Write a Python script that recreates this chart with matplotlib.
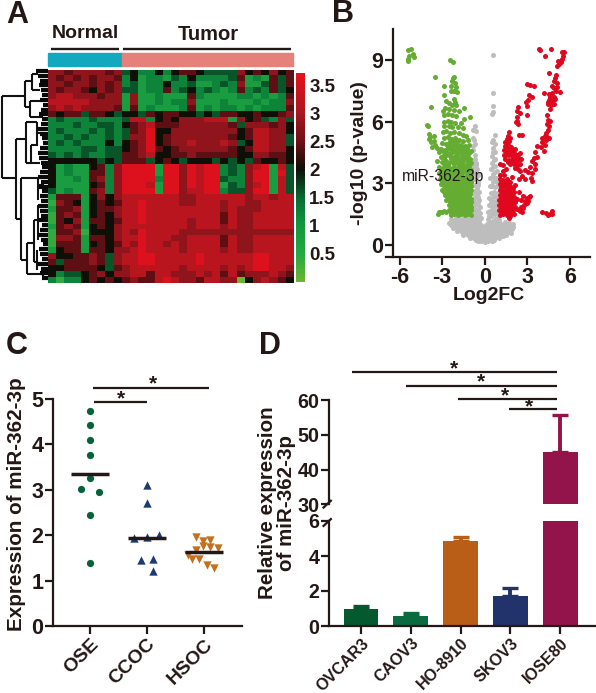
import numpy as np
import matplotlib
matplotlib.use('Agg')
import matplotlib.pyplot as plt
from matplotlib.colors import LinearSegmentedColormap
from matplotlib.lines import Line2D

W, H = 596, 693
DARK = '#231815'
plt.rcParams['font.family'] = ['Liberation Sans', 'DejaVu Sans']
plt.rcParams['font.weight'] = 'bold'

# --- panel A: one digit per cell, value = digit * 0.4 (9 normal columns, 21 tumor columns)
heat_rows = [
    "776777767 4533535 6654444 7565756",
    "767676776 3523324 3533334 6232646",
    "776776767 3423353 3422343 7224646",
    "767765767 4423363 4534323 6343645",
    "788777677 2722322 2632222 3323236",
    "888887777 2722323 3722232 2232337",
    "787877776 2623222 3623233 2323336",
    "656646654 5546566 5545466 5565567",
    "343334333 4883565 7778882 7564374",
    "333433443 5678666 7777776 4777675",
    "343334343 4679557 7777777 5688775",
    "334343343 4779567 7777776 5688774",
    "343433353 5679567 7877787 4588774",
    "333344344 5679656 7777776 5688775",
    "434343344 6678556 6766666 5577665",
    "555555454 6664565 4555454 5465565",
    "523225637 9999299 7989934 3789284",
    "523226637 9999299 7989934 3799294",
    "522326737 9999399 7989943 3799284",
    "522225637 9998299 7989924 3789284",
    "423226737 9999299 7889934 4799284",
    "266625757 8888888 7788888 8788788",
    "176525656 8898888 7788878 8778888",
    "266725667 8898888 8888878 7778888",
    "167625657 8898888 8888868 7788888",
    "165726656 8898888 8788868 7788888",
    "267625657 8888888 8788878 7788888",
    "166715557 8798888 7777777 7777777",
    "177626657 8898887 7888868 7788888",
    "166625656 8798878 7888868 7788888",
    "256626657 7898888 7888878 7788888",
    "755667647 8899888 8898888 8899888",
    "646667647 8899888 8898888 8899888",
    "556666546 7888888 7888878 7899887",
    "534456757 7886887 7787868 6777876",
    "313356565 6766898 7768877 0578765",
]
heat_ticks = [3.5, 3, 2.5, 2, 1.5, 1, 0.5]
heat_labels = ['3.5', '3', '2.5', '2', '1.5', '1', '0.5']

# --- panel B: volcano points (log2FC, -log10 p)
green_pts = [
    (-5.4,9.5),(-5.2,9.55),(-5.05,9.3),(-5.0,9.15),(-5.35,9.2),(-5.4,8.95),(-5.4,9.05),(-2.45,9.0),(-2.25,8.9),
    (-3.5,8.15),(-2.25,8.1),(-2.15,8.15),(-2.3,7.95),(-2.1,7.9),(-2.35,7.75),(-2.0,7.7),(-2.9,7.75),(-2.4,7.5),
    (-2.15,7.5),(-1.95,7.45),(-2.9,7.3),(-2.2,7.1),(-2.1,6.95),(-2.75,7.0),(-2.5,6.9),(-2.3,6.8),(-2.05,6.8),
    (-3.75,6.7),(-1.45,6.65),(-2.8,6.65),(-2.55,6.6),(-2.2,6.55),(-2.95,6.5),(-1.8,6.5),(-2.9,6.3),(-2.6,6.35),
    (-2.3,6.3),(-2.0,6.25),(-1.45,6.15),(-2.85,6.0),(-2.6,6.05),(-2.35,6.0),(-2.1,5.95),(-1.7,5.95),(-1.05,6.2),
    (-4.05,5.85),(-4.0,5.8),(-2.9,5.8),(-2.55,5.8),(-2.3,5.75),(-1.9,5.75),(-1.5,5.7),(-3.9,5.4),(-3.85,5.25),
    (-3.95,5.15),(-3.75,5.0),(-3.6,5.3),(-3.55,5.05),(-3.5,4.85),(-3.35,4.7),(-3.7,4.75),(-3.2,4.5),(-3.1,4.3),
    (-3.35,4.1),(-2.95,5.5),(-2.7,5.55),(-2.45,5.45),(-2.2,5.5),(-1.85,5.45),(-1.55,5.35),(-1.3,5.3),
    (-2.9,5.2),(-2.6,5.25),(-2.35,5.15),(-2.1,5.2),(-1.8,5.1),(-1.5,5.05),(-1.2,5.1),
    (-3.0,4.95),(-2.75,4.9),(-2.45,4.95),(-2.2,4.85),(-1.95,4.9),(-1.7,4.85),(-1.4,4.8),(-1.1,4.85),
    (-3.05,4.65),(-2.8,4.6),(-2.55,4.7),(-2.3,4.6),(-2.05,4.65),(-1.75,4.6),(-1.5,4.55),(-1.25,4.6),(-1.0,4.55),
    (-2.95,4.35),(-2.7,4.4),(-2.45,4.35),(-2.2,4.3),(-1.95,4.4),(-1.65,4.3),(-1.4,4.35),(-1.15,4.3),
    (-3.0,4.05),(-2.75,4.1),(-2.5,4.0),(-2.3,4.1),(-2.0,4.05),(-1.75,4.0),(-1.5,4.1),(-1.2,4.05),(-1.0,4.0),
    (-3.2,3.8),(-2.95,3.75),(-2.7,3.85),(-2.45,3.75),(-2.15,3.8),(-1.9,3.75),(-1.6,3.8),(-1.35,3.75),(-1.1,3.8),
    (-3.25,3.5),(-3.0,3.55),(-2.75,3.45),(-2.5,3.55),(-2.25,3.45),(-2.0,3.5),(-1.75,3.45),(-1.5,3.55),(-1.25,3.45),(-1.0,3.5),
    (-3.15,3.2),(-2.9,3.25),(-2.65,3.2),(-2.4,3.25),(-2.15,3.2),(-1.9,3.25),(-1.65,3.2),(-1.4,3.25),(-1.15,3.2),(-0.95,3.25),
    (-3.1,2.95),(-2.85,3.0),(-2.6,2.95),(-2.35,3.0),(-2.1,2.95),(-1.85,3.0),(-1.6,2.95),(-1.35,3.0),(-1.1,2.95),
    (-3.0,2.7),(-2.75,2.75),(-2.5,2.7),(-2.25,2.75),(-2.0,2.7),(-1.75,2.75),(-1.5,2.7),(-1.25,2.75),(-1.0,2.7),
    (-2.8,2.45),(-2.55,2.5),(-2.3,2.45),(-2.05,2.5),(-1.8,2.45),(-1.55,2.5),(-1.3,2.45),(-1.05,2.5),
    (-2.7,2.2),(-2.45,2.25),(-2.2,2.2),(-1.95,2.25),(-1.7,2.2),(-1.45,2.25),(-1.2,2.2),(-0.95,2.25),
    (-2.55,1.95),(-2.3,2.0),(-2.05,1.95),(-1.8,2.0),(-1.55,1.95),(-1.3,2.0),(-1.05,1.95),
    (-2.5,1.7),(-2.25,1.75),(-2.0,1.7),(-1.75,1.75),(-1.5,1.7),(-1.25,1.75),(-1.0,1.7),
    (-2.4,1.45),(-2.15,1.5),(-1.9,1.45),(-1.65,1.5),(-1.4,1.45),(-1.15,1.5),(-0.95,1.45),
    (-3.3,1.5),(-3.15,1.6),(-3.0,1.6),(-2.85,1.65),(-2.7,1.6),(-3.25,1.6),
    # in between the rows above, where the cloud is solid
    (-3.05,3.35),(-2.8,3.35),(-2.55,3.38),(-2.3,3.33),(-2.1,3.35),(-1.85,3.38),(-1.6,3.35),(-1.35,3.33),(-1.1,3.37),
    (-3.0,3.08),(-2.75,3.1),(-2.5,3.08),(-2.25,3.1),(-2.0,3.07),(-1.75,3.1),(-1.5,3.08),(-1.25,3.1),(-1.0,3.08),
    (-2.9,2.85),(-2.65,2.85),(-2.4,2.83),(-2.15,2.86),(-1.9,2.84),(-1.65,2.85),(-1.4,2.83),(-1.15,2.86),(-0.97,2.85),
    (-2.85,2.58),(-2.6,2.6),(-2.35,2.58),(-2.1,2.6),(-1.85,2.58),(-1.6,2.6),(-1.35,2.58),(-1.1,2.6),
    (-2.6,2.33),(-2.35,2.35),(-2.1,2.33),(-1.85,2.35),(-1.6,2.33),(-1.35,2.35),(-1.1,2.33),
    (-2.45,2.08),(-2.2,2.1),(-1.95,2.08),(-1.7,2.1),(-1.45,2.08),(-1.2,2.1),(-0.97,2.08),
    (-2.4,1.83),(-2.15,1.85),(-1.9,1.83),(-1.65,1.85),(-1.4,1.83),(-1.15,1.85),(-0.95,1.83),
    (-2.35,1.58),(-2.1,1.6),(-1.85,1.58),(-1.6,1.6),(-1.35,1.58),(-1.1,1.6),
    (-3.1,3.65),(-2.85,3.62),(-2.6,3.65),(-2.35,3.62),(-2.1,3.65),(-1.75,3.63),(-1.5,3.67),(-1.2,3.62),(-0.98,3.65),
    (-2.85,3.92),(-2.6,3.9),(-2.15,3.93),(-1.85,3.9),(-1.6,3.93),(-1.35,3.9),(-1.1,3.93),
    (-2.85,4.22),(-2.35,4.2),(-2.1,4.22),(-1.8,4.18),(-1.5,4.22),(-1.25,4.18),(-1.02,4.2),
    (-2.9,4.5),(-2.65,4.52),(-2.4,4.48),(-2.1,4.5),(-1.85,4.52),(-1.6,4.45),(-1.35,4.5),(-1.1,4.48),
    (-2.6,4.78),(-2.35,4.78),(-2.1,4.75),(-1.85,4.77),(-1.55,4.72),(-1.25,4.73),(-2.45,5.05),(-2.2,5.03),(-1.95,5.05),
]
red_pts = [
    (3.8,9.55),(3.9,9.5),(4.65,9.55),(4.25,9.2),(5.6,9.4),(5.45,9.4),(5.5,9.2),(5.45,9.05),(5.35,8.9),(5.2,8.8),
    (5.05,8.7),(5.15,8.95),(4.5,8.35),(5.0,8.25),(4.95,8.1),(4.85,7.95),(5.05,7.9),(4.75,7.75),(5.1,7.7),(4.9,7.65),
    (5.0,7.5),(5.3,7.45),(4.15,7.4),(4.5,7.35),(4.75,7.4),(4.6,7.2),(4.9,7.2),(4.55,7.05),(4.75,7.0),(4.95,7.1),
    (4.45,6.85),(4.65,6.8),(4.85,6.85),(4.6,6.6),(4.45,6.95),(4.35,6.3),(4.45,6.1),(4.6,6.05),(4.35,5.9),(4.55,5.8),
    (4.45,5.6),(4.3,5.45),(4.2,5.3),(4.4,5.25),(4.05,5.2),(4.3,5.1),(4.5,5.2),(4.0,5.0),(4.25,4.85),(3.7,4.8),
    (3.95,4.75),(4.15,4.55),(3.5,4.5),(3.65,4.3),(3.45,4.25),(3.3,4.1),(3.5,3.95),(3.2,3.8),(3.55,3.7),(3.05,3.55),
    (3.35,3.5),(3.25,3.25),(3.3,3.1),(3.0,7.85),(3.2,7.8),(3.45,7.75),(3.1,7.3),(3.3,7.2),(3.05,7.05),(2.9,6.95),
    (2.95,6.75),(2.35,6.7),(2.3,6.5),(2.45,6.4),(2.25,6.2),(2.3,6.05),(2.95,6.3),(2.2,6.0),(2.35,5.9),
    (1.7,5.5),(1.65,5.3),(1.75,5.2),(1.55,5.15),(1.7,5.05),(2.4,5.35),(2.6,5.35),(1.5,4.95),(1.65,4.85),(1.4,4.8),
    (1.75,4.75),(1.35,4.6),(1.55,4.6),(1.75,4.55),(1.95,4.6),(2.15,4.65),(1.4,4.4),(1.6,4.4),(1.85,4.4),(2.05,4.45),
    (2.25,4.4),(2.45,4.45),(1.45,4.2),(1.7,4.15),(1.95,4.2),(2.15,4.2),(2.35,4.15),(2.55,4.2),(1.75,3.95),(2.05,3.95),
    (2.25,3.9),(2.45,3.95),(1.3,3.9),(1.1,3.95),(2.15,3.75),(2.35,3.7),(1.5,3.7),(1.25,3.6),(2.5,3.6),(2.8,3.65),
    (1.05,3.4),(1.35,3.4),(1.9,3.3),(2.4,3.2),(2.85,3.2),(2.6,3.35),
    (1.05,3.2),(1.3,3.15),(1.55,3.2),(1.8,3.05),(1.05,2.95),(1.3,2.9),(1.55,2.95),(1.8,2.85),(2.1,2.9),
    (1.05,2.7),(1.3,2.65),(1.55,2.7),(1.8,2.65),(2.05,2.6),(2.4,2.6),(1.05,2.45),(1.3,2.4),(1.55,2.45),(1.8,2.4),
    (2.05,2.35),(2.7,2.4),(1.0,2.2),(1.25,2.15),(1.5,2.2),(1.75,2.15),(2.0,2.2),(2.25,2.25),(2.55,2.2),(3.2,2.4),
    (3.1,2.35),(3.0,2.3),(3.05,2.15),(2.85,2.15),(2.95,2.05),(1.0,1.95),(1.25,1.9),(1.5,1.95),(1.75,1.9),(2.0,1.95),
    (2.75,1.95),(2.55,1.85),(2.7,1.8),(1.0,1.7),(1.25,1.65),(1.5,1.7),(1.75,1.65),(2.0,1.7),(2.25,1.75),(2.5,1.65),
    (2.6,1.6),(1.05,1.45),(1.3,1.5),(1.55,1.45),(1.8,1.4),(2.05,1.5),(1.7,1.3),
    (4.0,1.6),(4.3,1.55),(4.45,1.45),(4.6,1.5),(4.75,1.65),(4.7,1.5),
    # dense lower part
    (1.15,3.05),(1.42,3.05),(1.68,3.08),(1.15,2.82),(1.42,2.8),(1.68,2.8),(1.95,2.75),(1.18,2.57),(1.42,2.55),(1.68,2.55),(1.92,2.5),
    (1.15,2.32),(1.4,2.3),(1.65,2.3),(1.9,2.3),(1.15,2.07),(1.38,2.05),(1.62,2.05),(1.88,2.05),(2.12,2.08),
    (1.12,1.82),(1.38,1.8),(1.62,1.8),(1.88,1.82),(2.12,1.85),(1.15,1.57),(1.42,1.58),(1.68,1.55),(1.92,1.58),
    (1.45,5.0),(1.35,4.4),(1.5,4.5),(1.6,4.7),(1.65,4.05),(1.9,4.05),(2.15,4.05),(2.35,4.3),(2.0,4.3),(1.85,4.75),
]
grey_pts = [
    (0.6,9.25),(0.55,7.4),(0.55,6.75),(0.55,6.45),(0.5,6.35),(-0.7,5.8),(-0.85,5.6),(-0.6,5.55),(-0.85,5.2),(-0.75,5.1),
    (-0.7,4.9),(0.7,5.35),(0.6,5.1),(0.5,5.0),(0.7,4.9),
    (-0.85,4.6),(-0.7,4.4),(-0.85,4.15),(-0.65,4.0),(-0.8,3.8),(-0.55,3.7),(-0.75,3.5),(-0.5,3.4),(-0.75,3.2),(-0.5,3.05),
    (-0.8,2.9),(-0.55,2.75),(-0.4,2.6),(-0.8,2.55),(-0.6,2.35),(-0.4,2.2),(-0.85,2.2),(-0.6,2.0),(-0.35,1.85),(-0.85,1.85),
    (-0.65,1.65),(-0.35,1.55),(-0.85,1.5),(-0.55,1.4),(-0.3,1.3),
    (-0.8,4.8),(-0.72,4.2),(-0.6,3.9),(-0.65,3.3),(-0.62,3.6),(-0.65,2.9),(-0.45,2.9),(-0.68,2.65),(-0.55,2.5),(-0.75,2.3),
    (-0.45,2.35),(-0.7,2.1),(-0.5,2.1),(-0.75,1.95),(-0.45,1.95),(-0.7,1.75),(-0.5,1.7),(-0.78,1.6),(-0.42,1.42),(-0.7,1.45),
    (0.55,4.7),(0.7,4.5),(0.5,4.35),(0.75,4.2),(0.5,4.0),(0.7,3.85),(0.45,3.7),(0.85,3.6),(0.6,3.45),(0.4,3.25),(0.8,3.25),
    (0.55,3.05),(0.95,3.0),(0.35,2.85),(0.7,2.8),(0.45,2.55),(0.9,2.55),(0.65,2.4),(0.3,2.3),(0.9,2.2),(0.55,2.1),(0.3,1.95),
    (0.8,1.9),(0.5,1.75),(0.25,1.6),(0.95,1.6),(0.7,1.5),(0.45,1.4),(0.25,1.25),(0.95,1.3),(0.7,1.25),
    (0.6,4.5),(0.62,4.15),(0.6,3.8),(0.72,3.55),(0.55,3.3),(0.72,3.1),(0.85,2.85),(0.52,2.85),(0.68,2.6),(0.52,2.3),(0.8,2.35),
    (0.42,2.15),(0.75,2.1),(0.42,1.95),(0.62,1.9),(0.92,1.95),(0.38,1.65),(0.65,1.7),(0.82,1.55),(0.55,1.55),(0.3,1.42),
    (-2.35,1.25),(-2.05,1.3),(-1.75,1.25),(-1.45,1.3),(-1.15,1.25),(-0.85,1.3),(-0.55,1.2),
    (-2.2,1.18),(-1.9,1.18),(-1.6,1.2),(-1.3,1.17),(-1.0,1.2),(-0.7,1.15),(-0.42,1.18),(0.3,1.15),(0.55,1.15),(0.85,1.18),(1.0,1.2),
    (-2.5,1.05),(-2.2,1.1),(-1.9,1.05),(-1.6,1.1),(-1.3,1.05),(-1.0,1.1),(-0.7,1.0),(-0.4,1.05),(0.2,1.05),(0.5,1.0),(0.8,1.05),(1.1,1.05),(1.4,1.1),(1.7,1.05),(1.95,1.0),
    (-2.35,0.97),(-2.05,0.97),(-1.75,0.97),(-1.45,0.97),(-1.15,0.97),(-0.85,0.97),(-0.55,0.95),(-0.25,0.97),(0.05,0.97),(0.35,0.95),(0.65,0.97),(0.95,0.97),(1.25,0.97),(1.55,0.97),(1.85,0.95),
    (-2.25,0.85),(-1.95,0.9),(-1.65,0.85),(-1.35,0.9),(-1.05,0.85),(-0.75,0.9),(-0.45,0.85),(-0.15,0.9),(0.15,0.85),(0.45,0.9),(0.75,0.85),(1.05,0.9),(1.35,0.85),(1.65,0.85),(1.9,0.8),(2.0,0.9),
    (-1.8,0.78),(-1.5,0.78),(-1.2,0.78),(-0.9,0.78),(-0.6,0.78),(-0.3,0.78),(0.0,0.78),(0.3,0.78),(0.6,0.78),(0.9,0.78),(1.2,0.78),(1.5,0.78),(1.8,0.72),
    (-1.95,0.7),(-1.65,0.7),(-1.35,0.65),(-1.05,0.7),(-0.75,0.65),(-0.45,0.7),(-0.15,0.65),(0.15,0.7),(0.45,0.65),(0.75,0.7),(1.05,0.65),(1.35,0.7),(1.65,0.65),(1.85,0.6),
    (-1.5,0.6),(-1.2,0.58),(-0.9,0.6),(-0.6,0.58),(-0.3,0.6),(0.0,0.58),(0.3,0.6),(0.6,0.58),(0.9,0.6),(1.2,0.58),(1.5,0.6),
    (-1.5,0.5),(-1.2,0.5),(-0.9,0.5),(-0.6,0.5),(-0.3,0.5),(0.0,0.5),(0.3,0.5),(0.6,0.5),(0.9,0.5),(1.2,0.5),(1.5,0.5),
    (-1.05,0.42),(-0.75,0.42),(-0.45,0.42),(-0.15,0.42),(0.15,0.42),(0.45,0.42),(0.75,0.42),(1.05,0.42),(1.3,0.42),
    (-1.05,0.33),(-0.75,0.35),(-0.45,0.33),(-0.15,0.35),(0.15,0.33),(0.45,0.35),(0.75,0.33),(1.0,0.35),
    (-0.6,0.26),(-0.35,0.26),(-0.1,0.26),(0.15,0.26),(0.4,0.26),(0.65,0.26),
    (-0.5,0.2),(-0.25,0.18),(0.0,0.16),(0.25,0.18),(0.5,0.2),
]
vol_ticks_x = [-6, -3, 0, 3, 6]
vol_ticks_y = [0, 3, 6, 9]

# --- panel C: (jitter position, value) for each group
c_groups = ['OSE', 'CCOC', 'HSOC']
ose_x = [0, 0, 0, 0, 0, -0.164, 0.164, 0, 0]
ose_y = [4.74, 4.43, 4.10, 3.76, 3.25, 3.02, 2.96, 2.44, 1.38]
ccoc_x = [0, 0, -0.22, 0, 0.22, -0.11, 0.11, 0.11]
ccoc_y = [3.10, 2.70, 1.93, 1.97, 2.0, 1.45, 1.47, 1.22]
hsoc_x = [-0.14, -0.02, 0.11, -0.02, 0.11, 0.24, -0.14, -0.27, -0.2, -0.08, 0.05, 0.18]
hsoc_y = [1.95, 1.87, 1.89, 1.76, 1.75, 1.71, 1.67, 1.56, 1.48, 1.48, 1.34, 1.27]
c_means = [3.34, 1.94, 1.64]

# --- panel D
d_names = ['OVCAR3', 'CAOV3', 'HO-8910', 'SKOV3', 'IOSE80']
d_vals = [0.95, 0.6, 4.86, 1.73, 45.1]
d_errs = [0.21, 0.16, 0.21, 0.46, 10.6]
d_cols = ['#05592f', '#0a6a40', '#b85e17', '#21336a', '#93144a']

fig = plt.figure(figsize=(W / 100, H / 100), dpi=100, facecolor='white')


def px_axes(l, t, r, b):
    return fig.add_axes([l / W, 1 - b / H, (r - l) / W, (b - t) / H])


def px_line(x1, y1, x2, y2, lw=1.6, color=DARK):
    fig.add_artist(Line2D([x1 / W, x2 / W], [1 - y1 / H, 1 - y2 / H], transform=fig.transFigure,
                          lw=lw, color=color, solid_capstyle='butt'))


def px_text(x, y, s, size=14, **kw):
    kw.setdefault('ha', 'center')
    kw.setdefault('va', 'center')
    fig.text(x / W, 1 - y / H, s, fontsize=size, color=DARK, **kw)


def style_axes(ax, size=14):
    ax.patch.set_alpha(0)
    for side in ['top', 'right']:
        ax.spines[side].set_visible(False)
    for side in ['left', 'bottom']:
        ax.spines[side].set_linewidth(1.6)
        ax.spines[side].set_color(DARK)
    ax.tick_params(width=1.6, length=6, color=DARK, labelcolor=DARK, labelsize=size, pad=1)


# ---------- A
heat = np.array([[int(c) * 0.4 for c in r.replace(' ', '')] for r in heat_rows])
cmap = LinearSegmentedColormap.from_list('gkr', [
    (0.0, '#6cb52e'), (0.13, '#25a844'), (0.27, '#14963f'), (0.40, '#076a34'), (0.54, '#0f0f08'),
    (0.67, '#6f0f16'), (0.81, '#a81820'), (1.0, '#e8101e')])
ax = px_axes(47.7, 70, 293.3, 283.3)
im = ax.imshow(heat, aspect='auto', cmap=cmap, vmin=0, vmax=3.72, interpolation='nearest')
ax.axis('off')

cax = px_axes(296, 72.7, 305, 281.7)
cb = fig.colorbar(im, cax=cax)
cb.outline.set_visible(False)
cb.set_ticks(heat_ticks, labels=heat_labels)
cb.ax.tick_params(length=0, labelsize=13.5, labelcolor=DARK, pad=3)

fig.patches.append(plt.Rectangle((47.7 / W, 1 - 66 / H), 74 / W, 12.7 / H, transform=fig.transFigure, color='#12a9bf'))
fig.patches.append(plt.Rectangle((121.7 / W, 1 - 66 / H), 171.6 / W, 12.7 / H, transform=fig.transFigure, color='#e58178'))
px_line(50.7, 49, 119, 49, lw=1.7)
px_line(123.3, 49, 290.7, 49, lw=1.7)
px_text(85, 34, 'Normal', 14)
px_text(208, 34, 'Tumor', 14.5)

# dendrogram, coordinates in px
dendro = [
    (1.7, 96, 1.7, 178), (1.7, 96, 25, 96), (1.7, 178, 16, 178),
    (25, 81, 25, 107), (25, 81, 32, 81), (25, 107, 30, 107),
    (32, 74, 32, 90), (32, 74, 38, 74), (32, 90, 40, 90),
    (30, 101, 30, 117), (30, 101, 40, 101), (30, 117, 43, 117),
    (16, 139, 16, 219), (16, 139, 26, 139), (16, 219, 21, 219),
    (26, 122, 26, 163), (26, 122, 37, 122), (26, 163, 31, 163),
    (31, 145, 31, 163), (31, 145, 38, 145), (31, 163, 40, 163),
    (37, 122, 37, 145), (38, 133, 44, 133),
    (21, 178, 21, 260), (21, 178, 38, 178), (21, 260, 27, 260),
    (38, 178, 38, 200), (38, 185, 44, 185),
    (27, 243, 27, 274), (27, 243, 34, 243), (27, 274, 43, 274),
    (34, 220, 34, 262), (34, 220, 38, 220), (34, 262, 37, 262),
    (38, 205, 38, 240), (37, 250, 37, 270), (43, 268, 43, 280),
]
for x1, y1, x2, y2 in dendro:
    px_line(x1, y1, x2, y2, lw=1.5, color='#111111')
leaf_start = [36, 38, 40, 39, 41, 42, 40, 43, 41, 39, 42, 41, 37, 40, 42, 43, 40, 38, 39, 41, 42, 40, 38, 41,
              39, 42, 40, 41, 38, 40, 41, 39, 42, 40, 38, 41, 43, 39, 40, 42, 38, 41, 40, 42]
for i, xs in enumerate(leaf_start):
    yy = 71 + i * 212 / len(leaf_start)
    px_line(xs, yy, 47.7, yy, lw=3.0, color='#0a0a0a')

# ---------- B
ax = px_axes(386, 29, 590, 257)
style_axes(ax, 15.5)
ax.set_xlim(-6.95, 7.4)
ax.set_ylim(-0.58, 10.5)
ax.spines['left'].set_position(('data', -6.48))
for pts, col, z in [(grey_pts, '#bdbdbd', 2), (green_pts, '#64ad32', 3), (red_pts, '#e0081f', 4)]:
    arr = np.array(pts)
    ax.scatter(arr[:, 0], arr[:, 1], s=13, color=col, linewidths=0, zorder=z)
ax.set_xticks(vol_ticks_x)
ax.set_yticks(vol_ticks_y)
ax.set_xticklabels(['-6', '-3', '0', '3', '6'])
px_text(443.5, 177, 'miR-362-3p', 11.3, fontweight='normal', zorder=10)
px_text(360, 153, '-log10 (p-value)', 14, rotation=90)
px_text(489, 296, 'Log2FC', 14)

# ---------- C
ax = px_axes(53, 399, 242, 626)
style_axes(ax, 15.5)
ax.set_xlim(-0.65, 2.67)
ax.set_ylim(0, 5)
ax.scatter(ose_x, ose_y, s=27, marker='o', color='#05633a', linewidths=0, zorder=3)
ax.scatter(np.array(ccoc_x) + 1, ccoc_y, s=36, marker='^', color='#1d3a72', linewidths=0, zorder=3)
ax.scatter(np.array(hsoc_x) + 2, hsoc_y, s=36, marker='v', color='#c4701e', linewidths=0, zorder=3)
for i, m in enumerate(c_means):
    ax.plot([i - 0.33, i + 0.33], [m, m], color=DARK, lw=2.5, solid_capstyle='butt', zorder=4)
ax.set_xticks(range(3))
ax.set_xticklabels(c_groups, rotation=45, ha='right', rotation_mode='anchor', fontsize=14)
ax.set_yticks(range(6))
px_text(17, 504.5, 'Expression of miR-362-3p', 14.9, rotation=90)
px_line(92.7, 387.7, 208.7, 387.7, lw=1.6)
px_line(94, 402, 146.7, 402, lw=1.6)
px_text(152.7, 384, '*', 15)
px_text(120.7, 399, '*', 15)

# ---------- D, broken y axis
xs = np.arange(5)
low = px_axes(329, 521, 595, 626)
up = px_axes(329, 400, 595, 504.3)
for a in (low, up):
    style_axes(a, 14.2)
    a.set_xlim(-0.643, 4.70)
    a.bar(xs, d_vals, width=0.7, color=d_cols, zorder=2)
low.set_ylim(0, 6)
up.set_ylim(30, 60)
low.set_yticks([0, 2, 4, 6])
up.set_yticks([30, 40, 50, 60])
up.spines['bottom'].set_visible(False)
up.set_xticks([])
low.set_xticks(xs)
low.set_xticklabels(d_names, rotation=45, ha='right', rotation_mode='anchor', fontsize=11.6)
for i in range(5):
    target = up if i == 4 else low
    target.errorbar(xs[i], d_vals[i], yerr=[[0], [d_errs[i]]], color=d_cols[i], elinewidth=2.8,
                    capsize=5.8, capthick=2.4, zorder=1.5 if i < 4 else 3)
px_line(322.7, 508.3, 331.7, 500, lw=1.6)
px_line(322.7, 526.7, 331.7, 518.3, lw=1.6)
px_text(277, 503, 'Relative expression\nof miR-362-3p', 14.8, rotation=90, linespacing=1.05)
for x1, y1 in [(351.7, 372), (405.7, 385.7), (457.7, 399), (509, 409.3)]:
    px_line(x1, y1, 556.7, y1, lw=1.6)
for x1, y1 in [(454.3, 368.5), (481, 382), (505.3, 396), (528.7, 407)]:
    px_text(x1, y1, '*', 15)

# panel letters
for x1, y1, s in [(17, 15, 'A'), (342.7, 14, 'B'), (17, 345.7, 'C'), (270, 345.7, 'D')]:
    px_text(x1, y1, s, 22)

plt.savefig('out.png', dpi=100)
